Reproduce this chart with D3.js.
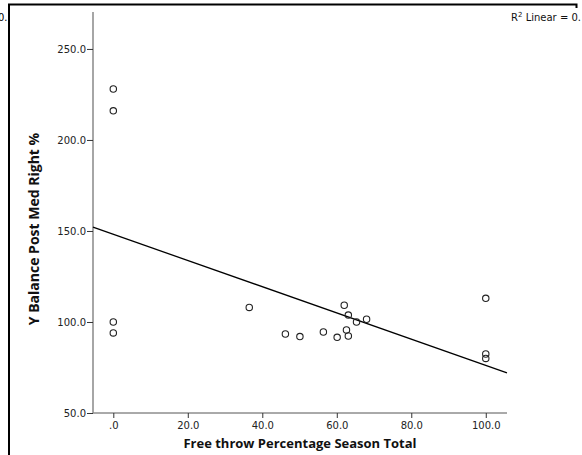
<!DOCTYPE html>
<html><head><meta charset="utf-8">
<script src="https://cdn.jsdelivr.net/npm/d3@7"></script>
<style>
body{margin:0;background:#fff;}
svg{display:block;font-family:"DejaVu Sans",sans-serif;}
</style></head>
<body>
<svg id="c" width="582" height="455"></svg>
<script>
const xValues = [0, 0, 0, 0, 36.5, 46.2, 50.1, 56.4, 60.1, 62.0, 62.6, 63.1, 63.1, 65.3, 68.0, 100, 100, 100];
const yValues = [228, 216, 100, 94, 108, 93.4, 92, 94.5, 91.6, 109.2, 95.6, 103.8, 92.3, 100, 101.5, 113, 82.4, 80];
const xTicks = [0, 20, 40, 60, 80, 100];
const yTicks = [50, 100, 150, 200, 250];
const xTitle = "Free throw Percentage Season Total";
const yTitle = "Y Balance Post Med Right %";

const svg = d3.select("#c");
const x = d3.scaleLinear().domain([-5.45, 105.7]).range([93, 507]);
const y = d3.scaleLinear().domain([50, 270.3]).range([413, 12]);
const fmt = v => v === 0 ? ".0" : d3.format(".1f")(v);

// frame
svg.append("path").attr("d","M9,455 V4.5 H576.5 V8").attr("fill","none").attr("stroke","#000").attr("stroke-width",2);
svg.append("text").attr("x",-2).attr("y",21).attr("font-size",10).attr("fill","#000").text("0.");

// axes
const gx = svg.append("g").attr("transform","translate(0,413)")
  .call(d3.axisBottom(x).tickValues(xTicks).tickFormat(fmt).tickSize(5).tickPadding(4));
const gy = svg.append("g").attr("transform","translate(93,0)")
  .call(d3.axisLeft(y).tickValues(yTicks).tickFormat(fmt).tickSize(6).tickPadding(1));
[gx, gy].forEach(g => {
  g.select(".domain").attr("stroke","#888").attr("stroke-width",1.5);
  g.selectAll(".tick line").attr("stroke","#333");
  g.selectAll(".tick text").attr("font-size",10).attr("font-family","DejaVu Sans").attr("fill","#222");
});
gy.select(".domain").attr("d","M-0,413V12");
gx.select(".domain").attr("d","M93,0H507").attr("stroke","#555").attr("stroke-width",1);

// regression line (least squares from data)
const mx = d3.mean(xValues), my = d3.mean(yValues);
let sxy = 0, sxx = 0;
xValues.forEach((v,i)=>{ sxy += (v-mx)*(yValues[i]-my); sxx += (v-mx)*(v-mx); });
const slope = sxy/sxx, icpt = my - slope*mx;
const [x0,x1] = x.domain();
svg.append("line").attr("x1",x(x0)).attr("y1",y(icpt+slope*x0)).attr("x2",x(x1)).attr("y2",y(icpt+slope*x1))
  .attr("stroke","#000").attr("stroke-width",1.3);

// points
svg.append("g").selectAll("circle").data(xValues).join("circle")
  .attr("cx",(d)=>x(d)).attr("cy",(d,i)=>y(yValues[i])).attr("r",3.2)
  .attr("fill","none").attr("stroke","#222").attr("stroke-width",1.1);

// titles
svg.append("text").attr("x",300).attr("y",448).attr("text-anchor","middle")
  .attr("font-family","Open Sans").attr("font-size",13).attr("font-weight","bold").attr("fill","#111").text(xTitle);
svg.append("text").attr("transform","translate(39,229) rotate(-90)").attr("text-anchor","middle")
  .attr("font-family","Open Sans").attr("font-size",14).attr("font-weight","bold").attr("fill","#111").text(yTitle);

// R2 label
const r = svg.append("text").attr("x",581).attr("y",21).attr("text-anchor","end").attr("font-size",10).attr("fill","#111");
r.append("tspan").text("R");
r.append("tspan").attr("dy",-4).attr("font-size",7).text("2");
r.append("tspan").attr("dy",4).text(" Linear = 0.");
</script>
</body></html>
